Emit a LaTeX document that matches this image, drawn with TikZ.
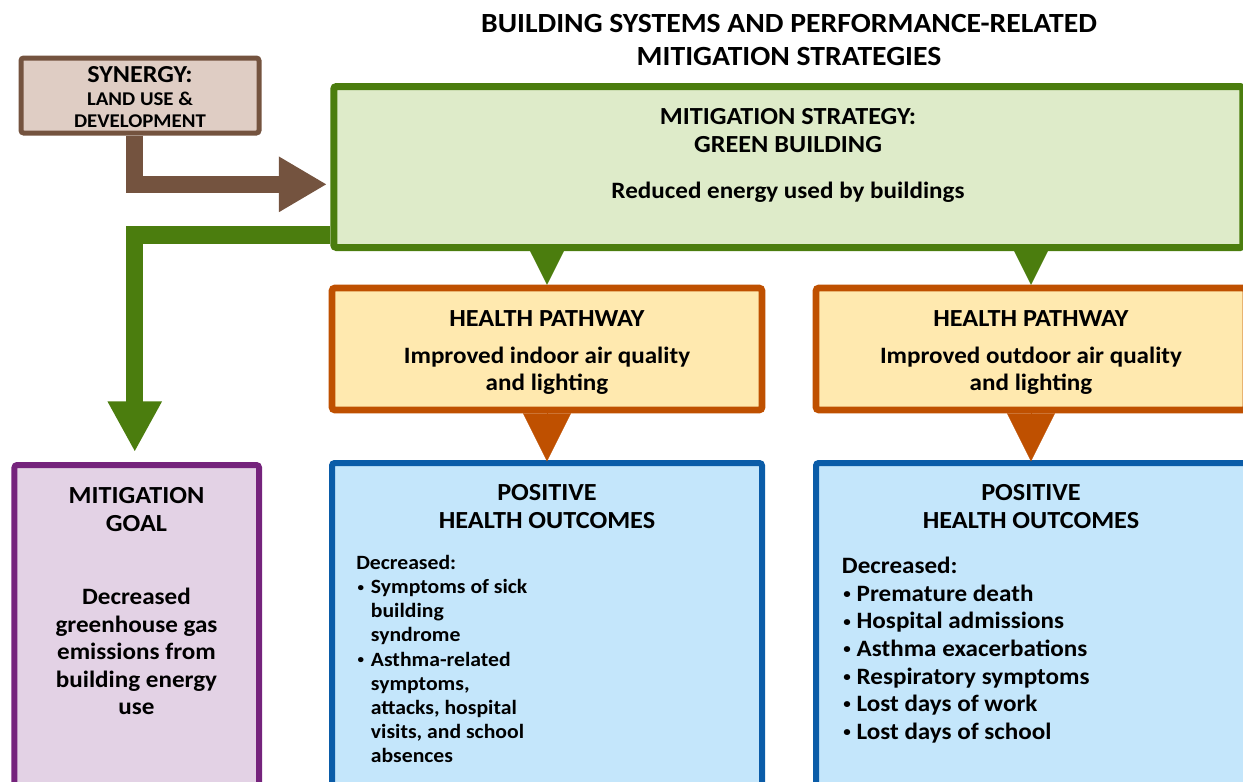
\documentclass[tikz,border=0pt]{standalone}
\usepackage{fontspec}
\setmainfont{Carlito}[FakeStretch=1.07]
\usepackage{tikz}
\usetikzlibrary{arrows.meta}

\definecolor{synfill}{HTML}{DFCDC4}
\definecolor{synline}{HTML}{74533F}
\definecolor{stratfill}{HTML}{DEEBC9}
\definecolor{stratline}{HTML}{4B7D0E}
\definecolor{pathfill}{HTML}{FFE9AF}
\definecolor{pathline}{HTML}{BF5000}
\definecolor{outfill}{HTML}{C4E6FB}
\definecolor{outline}{HTML}{0A5CA8}
\definecolor{goalfill}{HTML}{E3D2E5}
\definecolor{goalline}{HTML}{75237C}

\newcommand{\itm}{\makebox[11pt][l]{\hspace{1pt}\raisebox{0.12em}{\scalebox{0.6}{\textbullet}}}}
\newcommand{\cnt}{\makebox[11pt]{}}
\newcommand{\capsize}{\fontsize{18.4}{21.2}\selectfont}

\tikzset{
  box/.style={draw, rounded corners=2pt, inner sep=0pt},
  txt/.style={inner sep=0pt, align=center, font=\bfseries\fontsize{17.6}{20.7}\selectfont},
  bigarrow/.style={line width=13pt},
  smalltip/.style={line width=0.1pt}
}

\begin{document}
\begin{tikzpicture}[x=0.75pt,y=-0.75pt]
\useasboundingbox (0,0) rectangle (1243,782);
\clip (0,0) rectangle (1243,782);

% boxes
\node[box, fill=synfill, draw=synline, line width=3.75pt, minimum width=178.5pt, minimum height=56.25pt] (syn) at (140,95.5) {};
\node[box, fill=stratfill, draw=stratline, line width=5.25pt, minimum width=681.75pt, minimum height=120.75pt] (strat) at (788.25,167) {};
\node[box, fill=pathfill, draw=pathline, line width=4.9pt, minimum width=322.5pt, minimum height=91.5pt] (path1) at (547,349) {};
\node[txt] (path1text) at (547,352.5) {{\capsize HEALTH PATHWAY}\\[7pt]Improved indoor air quality\\and lighting};
\node[box, fill=pathfill, draw=pathline, line width=4.9pt, minimum width=322.5pt, minimum height=91.5pt] (path2) at (1031,349) {};
\node[txt] (path2text) at (1031,352.5) {{\capsize HEALTH PATHWAY}\\[7pt]Improved outdoor air quality\\and lighting};
\node[box, fill=outfill, draw=outline, line width=4.5pt, minimum width=322.5pt, minimum height=275.25pt] (out1) at (547,646.5) {};
\node[box, fill=outfill, draw=outline, line width=4.5pt, minimum width=322.5pt, minimum height=275.25pt] (out2) at (1031,646.5) {};
\node[box, fill=goalfill, draw=goalline, line width=4.5pt, minimum width=183.4pt, minimum height=273.75pt] (goal) at (136.75,647.5) {};

% texts
\node[txt, anchor=north, font=\bfseries\fontsize{20.8}{25}\selectfont] (title) at (789,14) {BUILDING SYSTEMS AND PERFORMANCE-RELATED\\MITIGATION STRATEGIES};
\node[txt, anchor=north, font=\bfseries\fontsize{18.3}{18}\selectfont] (synhead) at (140,66) {SYNERGY:};
\node[txt, anchor=north, font=\bfseries\fontsize{14.6}{17}\selectfont] (synsub) at (140,91.5) {LAND USE \&\\DEVELOPMENT};
\node[txt, anchor=north, font=\bfseries\capsize] (strathead) at (788,108) {MITIGATION STRATEGY:\\GREEN BUILDING};
\node[txt, anchor=north] (strattext) at (788,182) {Reduced energy used by buildings};
\node[txt, anchor=north, font=\bfseries\capsize] (outhead1) at (547,484) {POSITIVE\\HEALTH OUTCOMES};
\node[txt, anchor=north, font=\bfseries\capsize] (outhead2) at (1031,484) {POSITIVE\\HEALTH OUTCOMES};
\node[txt, anchor=north west, align=left, font=\bfseries\fontsize{15.2}{18.1}\selectfont] (list1) at (356,555) {Decreased:\\
\itm Symptoms of sick\\ \cnt building\\ \cnt syndrome\\
\itm Asthma-related\\ \cnt symptoms,\\ \cnt attacks, hospital\\ \cnt visits, and school\\ \cnt absences};
\node[txt, anchor=north west, align=left] (list2) at (841.7,557) {Decreased:\\
\itm Premature death\\ \itm Hospital admissions\\ \itm Asthma exacerbations\\
\itm Respiratory symptoms\\ \itm Lost days of work\\ \itm Lost days of school};
\node[txt, anchor=north, font=\bfseries\capsize] (goalhead) at (136.5,487) {MITIGATION\\GOAL};
\node[txt, anchor=north, font=\bfseries\fontsize{17.6}{20.6}\selectfont] (goaltext) at (136.5,588) {Decreased\\greenhouse gas\\emissions from\\building energy\\use};

% arrows
\draw[bigarrow, synline, -{Triangle[width=39pt,length=36pt]}, shorten >=2.5pt]
  ([xshift=-4pt]syn.south) |- ([yshift=-13pt]strat.west);
\draw[bigarrow, stratline, -{Triangle[width=38pt,length=38pt]}, shorten >=7.5pt]
  ([yshift=-51pt]strat.west) -| ([xshift=-1.5pt]goal.north);
\draw[smalltip, stratline, -{Triangle[width=30pt,length=30pt]}] (path1.north |- strat.south) -- (path1.north);
\draw[smalltip, stratline, -{Triangle[width=30pt,length=30pt]}] (path2.north |- strat.south) -- (path2.north);
\draw[smalltip, pathline, -{Triangle[width=36pt,length=36pt]}] (path1.south) -- ([yshift=-1pt]out1.north);
\draw[smalltip, pathline, -{Triangle[width=36pt,length=36pt]}] (path2.south) -- ([yshift=-1pt]out2.north);
\end{tikzpicture}
\end{document}
